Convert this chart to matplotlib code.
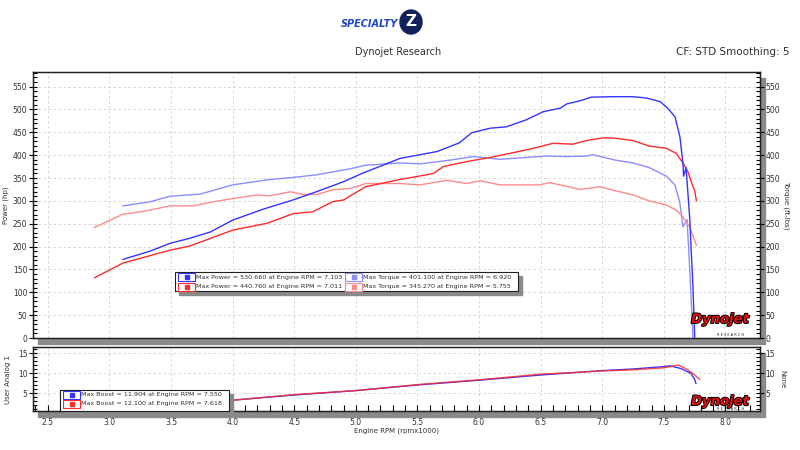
import numpy as np
import matplotlib
matplotlib.use("Agg")
import matplotlib.pyplot as plt
import matplotlib.patheffects as pe
from matplotlib.patches import Rectangle, Ellipse
from matplotlib.ticker import MultipleLocator, FormatStrFormatter

# ==========================================
# DATA
# ==========================================
rpm_power_a = [3.11, 3.33, 3.49, 3.65, 3.82, 4.00, 4.25, 4.49, 4.68, 4.90, 5.05, 5.36,
               5.66, 5.84, 5.94, 6.09, 6.22, 6.38, 6.52, 6.66, 6.71, 6.82, 6.91, 7.09,
               7.25, 7.36, 7.47, 7.53, 7.59, 7.63, 7.655, 7.66, 7.68, 7.71, 7.736, 7.75]
power_a = [172, 190, 207, 218, 232, 258, 282, 302, 320, 342, 360, 393,
           408, 427, 449, 459, 462, 477, 495, 503, 512, 519, 527, 528,
           528, 525, 517, 503, 484, 440, 382, 354, 373, 260, 111, 2]

rpm_power_b = [2.88, 3.11, 3.49, 3.65, 4.00, 4.28, 4.49, 4.65, 4.81, 4.90, 5.08, 5.36,
               5.49, 5.63, 5.71, 5.90, 6.09, 6.25, 6.44, 6.60, 6.76, 6.87, 7.01, 7.11,
               7.25, 7.38, 7.52, 7.60, 7.655, 7.695, 7.736, 7.75, 7.764]
power_b = [132, 164, 192, 201, 236, 251, 272, 276, 298, 302, 331, 347,
           353, 360, 375, 386, 395, 404, 415, 426, 424, 432, 438, 437,
           432, 420, 415, 404, 383, 364, 331, 322, 300]

rpm_torque_a = [3.11, 3.33, 3.49, 3.74, 4.00, 4.28, 4.55, 4.68, 4.95, 5.08, 5.36, 5.52,
                5.76, 5.95, 6.17, 6.38, 6.55, 6.71, 6.87, 6.92, 7.11, 7.25, 7.38, 7.52,
                7.59, 7.63, 7.655, 7.688, 7.71, 7.736]
torque_a = [289, 298, 310, 315, 335, 346, 353, 357, 370, 378, 383, 381,
            389, 397, 391, 395, 398, 397, 398, 401, 389, 383, 373, 354,
            335, 295, 243, 259, 150, 0]

rpm_torque_b = [2.88, 3.11, 3.25, 3.33, 3.49, 3.68, 3.84, 4.00, 4.20, 4.30, 4.47, 4.57,
                4.68, 4.81, 4.95, 5.08, 5.36, 5.52, 5.74, 5.90, 6.01, 6.17, 6.49, 6.57,
                6.71, 6.82, 6.98, 7.11, 7.25, 7.38, 7.52, 7.60, 7.655, 7.71, 7.764]
torque_b = [242, 271, 276, 280, 289, 289, 298, 305, 313, 311, 320, 314,
            314, 324, 327, 338, 338, 335, 345, 338, 344, 335, 335, 340,
            332, 325, 331, 322, 313, 300, 291, 280, 265, 243, 203]

rpm_boost_a = [3.11, 3.50, 4.00, 4.50, 5.00, 5.50, 6.00, 6.50, 7.00, 7.25, 7.50, 7.55,
               7.64, 7.72, 7.75, 7.76]
boost_a = [2.6, 3.0, 3.3, 4.6, 5.7, 7.1, 8.3, 9.6, 10.7, 11.1, 11.7, 11.9,
           11.2, 10.0, 8.5, 7.5]

rpm_boost_b = [2.88, 3.50, 4.00, 4.50, 5.00, 5.50, 6.00, 6.50, 7.00, 7.25, 7.50, 7.62,
               7.69, 7.75, 7.79]
boost_b = [2.4, 3.0, 3.3, 4.7, 5.7, 7.2, 8.4, 9.8, 10.6, 10.9, 11.4, 12.1,
           11.0, 9.6, 8.5]

power_legend = ["Max Power = 530.660 at Engine RPM = 7.103",
                "Max Power = 440.760 at Engine RPM = 7.011"]
torque_legend = ["Max Torque = 401.100 at Engine RPM = 6.920",
                 "Max Torque = 345.270 at Engine RPM = 5.755"]
boost_legend = ["Max Boost = 11.904 at Engine RPM = 7.550",
                "Max Boost = 12.100 at Engine RPM = 7.618"]

BLUE = "#3434ff"
RED = "#ff2a2a"
LBLUE = "#8c8cff"
LRED = "#ff8a8a"
GRID = "#d2d2d2"
TXT = "#303030"

W, H = 800, 450

# ==========================================
# HELPERS (pixel coords -> figure coords)
# ==========================================
def fx(x):
    return x / W

def fy(y):
    return 1 - y / H

def add_panel(fig, x0, y0, x1, y1):
    # grey drop shadow, then the white axes on top
    fig.patches.append(Rectangle((fx(x0 + 5), fy(y1 + 6)), (x1 - x0) / W, (y1 - y0) / H,
                                 transform=fig.transFigure, color="#8a8a8a", zorder=0))
    ax = fig.add_axes([fx(x0), fy(y1), (x1 - x0) / W, (y1 - y0) / H])
    ax.set_zorder(2)
    ax.set_facecolor("white")
    for s in ax.spines.values():
        s.set_color("#202020")
        s.set_linewidth(1.0)
    ax.grid(True, which="major", color=GRID, linestyle=(0, (3, 3)), linewidth=0.6)
    ax.set_axisbelow(True)
    return ax

def right_axis(ax, major, minor, label, pad):
    axr = ax.twinx()
    axr.set_zorder(3)
    axr.set_ylim(ax.get_ylim())
    axr.yaxis.set_major_locator(MultipleLocator(major))
    axr.yaxis.set_minor_locator(MultipleLocator(minor))
    axr.tick_params(axis="y", which="major", direction="inout", length=6, width=0.8,
                    labelsize=5.5, labelcolor=TXT, pad=1)
    axr.tick_params(axis="y", which="minor", direction="in", length=3, width=0.8)
    axr.set_ylabel(label, fontsize=5, color=TXT, rotation=270, labelpad=pad)
    for s in axr.spines.values():
        s.set_color("#202020")
    return axr

def legend_box(fig, x0, y0, x1, y1, rows):
    fig.patches.append(Rectangle((fx(x0 + 4), fy(y1 + 4)), (x1 - x0) / W, (y1 - y0) / H,
                                 transform=fig.transFigure, color="#8a8a8a", zorder=5))
    fig.patches.append(Rectangle((fx(x0), fy(y1)), (x1 - x0) / W, (y1 - y0) / H,
                                 transform=fig.transFigure, facecolor="white",
                                 edgecolor="#202020", linewidth=0.8, zorder=6))
    for sx, sy, col, label in rows:
        fig.patches.append(Rectangle((fx(sx), fy(sy + 4)), 17 / W, 8 / H,
                                     transform=fig.transFigure, facecolor="white",
                                     edgecolor=col, linewidth=0.8, zorder=7))
        fig.patches.append(Rectangle((fx(sx + 6.5), fy(sy + 2)), 4 / W, 4 / H,
                                     transform=fig.transFigure, color=col, zorder=8))
        fig.text(fx(sx + 18), fy(sy), label, fontsize=4.6, color=TXT,
                 va="center", ha="left", zorder=9)

def dynojet_logo(ax):
    ax.text(0.985, 0.045, "Dynojet", transform=ax.transAxes, ha="right", va="bottom",
            fontsize=9.5, fontweight="heavy", fontstyle="italic", color="#e01010",
            zorder=10, path_effects=[pe.withStroke(linewidth=1.4, foreground="black")])
    ax.text(0.978, 0.005, "R E S E A R C H", transform=ax.transAxes, ha="right",
            va="bottom", fontsize=2.5, color="#202020", zorder=10)

# ==========================================
# FIGURE
# ==========================================
fig = plt.figure(figsize=(8, 4.5), dpi=100)
fig.patch.set_facecolor("white")

# header
fig.text(fx(398), fy(24), "SPECIALTY", fontsize=7, fontweight="bold", fontstyle="italic",
         color="#1f46c8", ha="right", va="center")
fig.patches.append(Ellipse((fx(411), fy(22)), 22 / W, 24 / H, transform=fig.transFigure,
                           color="#14205a", zorder=2))
fig.text(fx(411), fy(22), "Z", fontsize=11, fontweight="bold", color="white",
         ha="center", va="center", zorder=3)
fig.text(fx(398), fy(52), "Dynojet Research", fontsize=7, color=TXT, ha="center", va="center")
fig.text(fx(790), fy(52), "CF: STD Smoothing: 5", fontsize=7.5, color=TXT,
         ha="right", va="center")

# ==========================================
# TOP PANEL: POWER / TORQUE
# ==========================================
ax = add_panel(fig, 33, 72, 760, 338)
ax.plot(rpm_torque_a, torque_a, color=LBLUE, lw=1.0)
ax.plot(rpm_torque_b, torque_b, color=LRED, lw=1.0)
ax.plot(rpm_power_b, power_b, color=RED, lw=1.0)
ax.plot(rpm_power_a, power_a, color=BLUE, lw=1.0)
ax.set_xlim(2.38, 8.28)
ax.set_ylim(0, 582)
ax.xaxis.set_major_locator(MultipleLocator(0.5))
ax.yaxis.set_major_locator(MultipleLocator(50))
ax.yaxis.set_minor_locator(MultipleLocator(10))
ax.tick_params(axis="x", which="both", length=0, labelbottom=False)
ax.tick_params(axis="y", which="major", direction="inout", length=6, width=0.8,
               labelsize=5.5, labelcolor=TXT, pad=1)
ax.tick_params(axis="y", which="minor", direction="in", length=3, width=0.8)
ax.set_ylabel("Power (hp)", fontsize=5, color=TXT, labelpad=3)
dynojet_logo(ax)
right_axis(ax, 50, 10, "Torque (ft-lbs)", 7)

legend_box(fig, 175, 272, 518, 291, [
    (178, 277.3, BLUE, power_legend[0]),
    (178, 286.7, RED, power_legend[1]),
    (345, 277.3, LBLUE, torque_legend[0]),
    (345, 286.7, LRED, torque_legend[1]),
])

# ==========================================
# BOTTOM PANEL: BOOST
# ==========================================
bx = add_panel(fig, 33, 347, 760, 411)
bx.plot(rpm_boost_a, boost_a, color=BLUE, lw=1.0)
bx.plot(rpm_boost_b, boost_b, color=RED, lw=1.0, alpha=0.85)
bx.set_xlim(2.38, 8.28)
bx.set_ylim(0.6, 16.6)
bx.xaxis.set_major_locator(MultipleLocator(0.5))
bx.xaxis.set_minor_locator(MultipleLocator(0.1))
bx.xaxis.set_major_formatter(FormatStrFormatter("%.1f"))
bx.yaxis.set_major_locator(MultipleLocator(5))
bx.yaxis.set_minor_locator(MultipleLocator(1))
bx.tick_params(axis="x", which="both", direction="in", length=4, width=0.8,
               labelsize=5.5, labelcolor=TXT, pad=5)
bx.tick_params(axis="y", which="major", direction="inout", length=6, width=0.8,
               labelsize=5.5, labelcolor=TXT, pad=1)
bx.tick_params(axis="y", which="minor", direction="in", length=3, width=0.8)
bx.set_ylabel("User Analog 1", fontsize=5, color=TXT, labelpad=5)
bx.set_xlabel("Engine RPM (rpmx1000)", fontsize=5, color=TXT, labelpad=0.5)
dynojet_logo(bx)
right_axis(bx, 5, 1, "None", 7)

legend_box(fig, 60, 390, 229, 411, [
    (63, 394.7, BLUE, boost_legend[0]),
    (63, 404.0, RED, boost_legend[1]),
])

fig.savefig("out.png", dpi=100)
